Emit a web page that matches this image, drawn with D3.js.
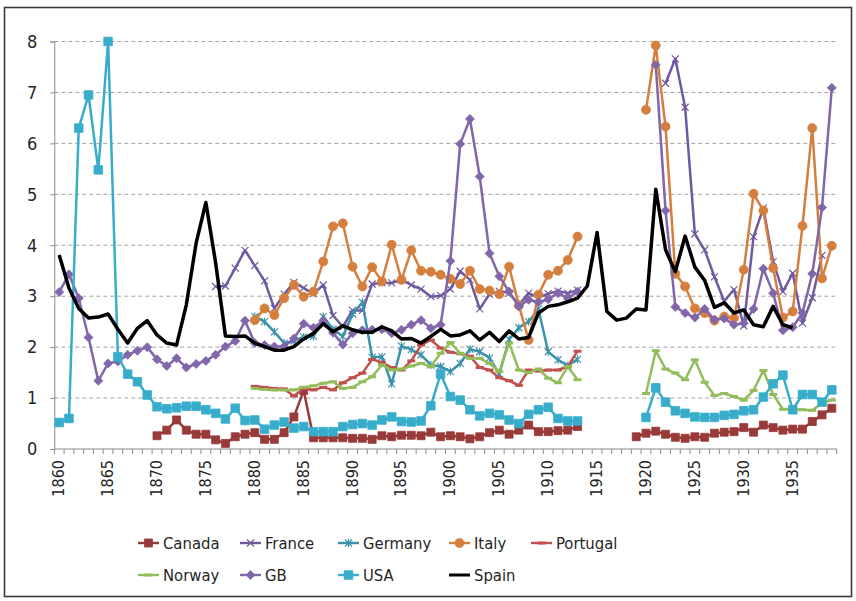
<!DOCTYPE html>
<html lang="en">

<head>
  <meta charset="utf-8">
  <title>Ratios by country, 1860-1939</title>
  <script src="https://d3js.org/d3.v7.min.js" charset="utf-8"></script>
  <style type="text/css">
    body { margin: 0; background: #fff; }
    text { font-family: "Liberation Sans Narrow", "DejaVu Sans Condensed", sans-serif; fill: #262626; }
  </style>
</head>

<body>
  <svg id="chart" width="856" height="601" xmlns="http://www.w3.org/2000/svg"></svg>
  <script type="text/javascript">
    var years = d3.range(1860, 1940);
    var yTicks = [0, 1, 2, 3, 4, 5, 6, 7, 8];
    var xLabels = d3.range(1860, 1940, 5);

    // each series is a list of [first year, values] runs, gaps between runs stay empty
    var canada = [
      [1870, [0.26, 0.37, 0.57, 0.37, 0.29, 0.29, 0.18, 0.11, 0.24, 0.29,
        0.32, 0.19, 0.19, 0.32, 0.63, 1.15, 0.22, 0.22, 0.22, 0.22,
        0.21, 0.21, 0.19, 0.26, 0.24, 0.27, 0.27, 0.26, 0.33, 0.24,
        0.26, 0.24, 0.20, 0.24, 0.32, 0.37, 0.29, 0.37, 0.47, 0.34, 0.34, 0.36, 0.37, 0.44]],
      [1919, [0.24, 0.31, 0.35, 0.29, 0.23, 0.21, 0.24, 0.23, 0.31, 0.33, 0.34,
        0.42, 0.33, 0.47, 0.42, 0.37, 0.39, 0.39, 0.54, 0.67, 0.80]]
    ];
    var france = [
      [1876, [3.19, 3.20, 3.55, 3.90,
        3.60, 3.30, 2.76, 3.04, 3.27, 3.16, 3.05, 3.22, 2.62, 2.40,
        2.72, 2.72, 3.24, 3.26, 3.26, 3.32, 3.22, 3.14, 2.99, 3.01,
        3.14, 3.49, 3.32, 2.75, 3.04, 3.10, 3.06, 2.83, 3.06, 2.97, 3.05, 3.10, 3.06, 3.12]],
      [1922, [7.18, 7.66, 6.71, 4.22, 3.91, 3.38, 2.90, 3.13, 2.42, 4.17, 4.73, 3.68,
        3.09, 3.45, 2.47, 2.97, 3.80]]
    ];
    var germany = [
      [1880, [2.60, 2.50, 2.30, 2.08, 2.12, 2.20, 2.21, 2.60, 2.35, 2.21,
        2.65, 2.88, 1.80, 1.81, 1.28, 2.02, 1.95, 1.85, 1.65, 1.62,
        1.52, 1.68, 1.96, 1.91, 1.79, 1.47, 2.15, 2.38, 2.50, 2.75, 1.91, 1.75, 1.64, 1.76]]
    ];
    var italy = [
      [1880, [2.53, 2.76, 2.63, 2.96, 3.22, 2.99, 3.09, 3.68, 4.37, 4.43,
        3.58, 3.19, 3.57, 3.29, 4.01, 3.32, 3.90, 3.50, 3.48, 3.42,
        3.34, 3.24, 3.50, 3.14, 3.11, 3.04, 3.58, 2.82, 2.14, 3.03, 3.42, 3.50, 3.71, 4.17]],
      [1920, [6.66, 7.92, 6.33, 3.44, 3.19, 2.76, 2.67, 2.52, 2.60, 2.57,
        3.52, 5.01, 4.68, 3.55, 2.58, 2.70, 4.38, 6.30, 3.35, 3.99]]
    ];
    var portugal = [
      [1880, [1.23, 1.21, 1.19, 1.18, 1.04, 1.19, 1.16, 1.21, 1.16, 1.30,
        1.40, 1.49, 1.76, 1.70, 1.60, 1.55, 1.73, 2.04, 2.14, 1.98,
        1.90, 1.87, 1.82, 1.60, 1.55, 1.40, 1.34, 1.25, 1.55, 1.53, 1.55, 1.55, 1.62, 1.92]]
    ];
    var norway = [
      [1880, [1.19, 1.17, 1.16, 1.16, 1.16, 1.21, 1.24, 1.29, 1.32, 1.19,
        1.21, 1.32, 1.42, 1.65, 1.55, 1.57, 1.63, 1.68, 1.62, 1.88,
        2.09, 1.88, 1.78, 1.78, 1.68, 1.52, 2.08, 1.55, 1.50, 1.57, 1.39, 1.30, 1.62, 1.36]],
      [1920, [1.09, 1.93, 1.57, 1.49, 1.36, 1.75, 1.31, 1.05, 1.09, 1.03,
        0.96, 1.15, 1.54, 1.07, 0.78, 0.78, 0.77, 0.76, 0.90, 0.96]]
    ];
    var gb = [
      [1860, [3.08, 3.43, 2.96, 2.19, 1.34, 1.68, 1.72, 1.85, 1.93, 2.00,
        1.76, 1.63, 1.78, 1.60, 1.67, 1.73, 1.85, 2.01, 2.12, 2.52,
        2.08, 2.04, 2.01, 2.01, 2.17, 2.46, 2.38, 2.52, 2.28, 2.05,
        2.27, 2.33, 2.34, 2.35, 2.27, 2.34, 2.44, 2.53, 2.37, 2.44,
        3.69, 5.99, 6.48, 5.35, 3.84, 3.39, 3.09, 2.80, 2.93, 2.88, 2.94, 3.06, 2.96, 3.09]],
      [1921, [7.54, 4.68, 2.79, 2.67, 2.58, 2.75, 2.54, 2.56, 2.44,
        2.47, 2.75, 3.54, 3.06, 2.33, 2.39, 2.67, 3.44, 4.74, 7.09]]
    ];
    var usa = [
      [1860, [0.52, 0.60, 6.30, 6.95, 5.48, 8.00, 1.81, 1.47, 1.32, 1.06,
        0.83, 0.79, 0.81, 0.84, 0.84, 0.77, 0.70, 0.59, 0.80, 0.56,
        0.57, 0.39, 0.47, 0.53, 0.41, 0.44, 0.34, 0.34, 0.34, 0.44,
        0.48, 0.50, 0.47, 0.57, 0.63, 0.54, 0.53, 0.55, 0.85, 1.47,
        1.03, 0.96, 0.77, 0.65, 0.70, 0.67, 0.57, 0.50, 0.68, 0.77, 0.82, 0.60, 0.55, 0.55]],
      [1920, [0.62, 1.20, 0.92, 0.75, 0.70, 0.63, 0.62, 0.62, 0.66, 0.68,
        0.75, 0.77, 1.02, 1.28, 1.45, 0.77, 1.07, 1.07, 0.92, 1.16]]
    ];
    var spain = [
      [1860, [3.81, 3.16, 2.76, 2.57, 2.59, 2.65, 2.35, 2.08, 2.37, 2.52,
        2.24, 2.08, 2.04, 2.83, 4.04, 4.84, 3.65, 2.22, 2.21, 2.22,
        2.08, 2.01, 1.94, 1.94, 2.01, 2.16, 2.27, 2.46, 2.30, 2.42,
        2.34, 2.29, 2.29, 2.40, 2.32, 2.16, 2.17, 2.08, 2.21, 2.35,
        2.22, 2.24, 2.32, 2.14, 2.29, 2.11, 2.32, 2.16, 2.19, 2.67,
        2.80, 2.83, 2.89, 2.96, 3.20, 4.25, 2.70, 2.53, 2.57, 2.75,
        2.73, 5.10, 3.91, 3.48, 4.18, 3.57, 3.31, 2.78, 2.87, 2.67,
        2.73, 2.44, 2.40, 2.80, 2.44, 2.38]]
    ];

    var seriesList = [
      { name: 'Canada', runs: canada, color: '#973a38', marker: 'square', size: 4 },
      { name: 'France', runs: france, color: '#6f5a9f', marker: 'x', size: 3.5 },
      { name: 'Germany', runs: germany, color: '#3b93a9', marker: 'star', size: 3.5 },
      { name: 'Italy', runs: italy, color: '#d57f3e', marker: 'circle', size: 4.5 },
      { name: 'Portugal', runs: portugal, color: '#c0504d', marker: 'dash', size: 4 },
      { name: 'Norway', runs: norway, color: '#93bd5b', marker: 'dash', size: 4 },
      { name: 'GB', runs: gb, color: '#8166aa', marker: 'diamond', size: 4.5 },
      { name: 'USA', runs: usa, color: '#38adcb', marker: 'square', size: 4.3 },
      { name: 'Spain', runs: spain, color: '#000000', marker: 'none', size: 0 }
    ];

    function toPoints(runs) {
      var pts = years.map(function(yr) { return { year: yr, value: null }; });
      runs.forEach(function(run) {
        run[1].forEach(function(v, i) {
          pts[run[0] + i - 1860].value = v;
        });
      });
      return pts;
    }

    function markerPath(type, s) {
      if (type === 'square') return 'M' + (-s) + ',' + (-s) + 'h' + 2 * s + 'v' + 2 * s + 'h' + (-2 * s) + 'Z';
      if (type === 'diamond') return 'M0,' + (-s) + 'L' + s + ',0L0,' + s + 'L' + (-s) + ',0Z';
      if (type === 'x') return 'M' + (-s) + ',' + (-s) + 'L' + s + ',' + s + 'M' + (-s) + ',' + s + 'L' + s + ',' + (-s);
      if (type === 'star') return 'M' + (-s) + ',' + (-s) + 'L' + s + ',' + s + 'M' + (-s) + ',' + s + 'L' + s + ',' + (-s) + 'M0,' + (-s - 0.5) + 'L0,' + (s + 0.5);
      if (type === 'dash') return 'M' + (-s) + ',0L' + s + ',0';
      return '';
    }

    function drawMarker(g, d, px, py) {
      if (d.marker === 'none') return;
      if (d.marker === 'circle') {
        g.append('circle').attr('cx', px).attr('cy', py).attr('r', d.size)
          .style('fill', d.color).style('stroke', d.color).style('stroke-width', 0.8);
        return;
      }
      var filled = d.marker === 'square' || d.marker === 'diamond';
      g.append('path')
        .attr('transform', 'translate(' + px + ',' + py + ')')
        .attr('d', markerPath(d.marker, d.size))
        .style('fill', filled ? d.color : 'none')
        .style('stroke', d.color)
        .style('stroke-width', filled ? 0.8 : (d.marker === 'dash' ? 3 : 1.2));
    }

    function drawChart() {
      var svg = d3.select('#chart');

      // outer frame
      svg.append('rect')
        .attr('x', 4.5).attr('y', 7.5).attr('width', 847).attr('height', 589)
        .style('fill', 'none').style('stroke', '#3a3a3a').style('stroke-width', 1.6);

      var plotLeft = 54.3, plotRight = 836.7, plotTop = 41.5, plotBottom = 449;

      var x = d3.scaleBand().domain(years).range([plotLeft, plotRight]);
      var y = d3.scaleLinear().domain([0, 8]).range([plotBottom, plotTop]);
      var cx = function(yr) { return x(yr) + x.bandwidth() / 2; };

      // dashed grid
      svg.append('g').selectAll('line')
        .data(yTicks.filter(function(t) { return t > 0; }))
        .enter().append('line')
        .attr('x1', plotLeft).attr('x2', plotRight)
        .attr('y1', function(t) { return y(t); })
        .attr('y2', function(t) { return y(t); })
        .style('stroke', '#a3a3a3').style('stroke-width', 1)
        .style('stroke-dasharray', '4,3');

      // y axis
      var yAxis = svg.append('g')
        .attr('transform', 'translate(' + plotLeft + ',0)')
        .call(d3.axisLeft(y).tickValues(yTicks).tickSize(4).tickPadding(13).tickFormat(d3.format('d')));
      yAxis.select('.domain').style('stroke', '#8a8a8a');
      yAxis.selectAll('.tick line').style('stroke', '#8a8a8a');
      yAxis.selectAll('text').style('font-size', '18px').style('fill', '#262626')
        .style('font-family', '"Liberation Sans Narrow", "DejaVu Sans Condensed", sans-serif');

      // x axis: tick marks on band edges, labels every five years
      var xg = svg.append('g');
      xg.append('line').attr('x1', plotLeft).attr('x2', plotRight).attr('y1', plotBottom).attr('y2', plotBottom)
        .style('stroke', '#8a8a8a').style('stroke-width', 1);
      xg.selectAll('line.tk')
        .data(years.concat([1940]))
        .enter().append('line')
        .attr('class', 'tk')
        .attr('x1', function(yr) { return yr < 1940 ? x(yr) : plotRight; })
        .attr('x2', function(yr) { return yr < 1940 ? x(yr) : plotRight; })
        .attr('y1', plotBottom).attr('y2', plotBottom + 5)
        .style('stroke', '#8a8a8a').style('stroke-width', 1);
      xg.selectAll('text')
        .data(xLabels)
        .enter().append('text')
        .attr('transform', function(yr) { return 'translate(' + (cx(yr) + 5) + ',' + (plotBottom + 11) + ') rotate(-90)'; })
        .attr('text-anchor', 'end')
        .style('font-size', '16px')
        .text(function(yr) { return yr; });

      // series
      var line = d3.line()
        .defined(function(p) { return p.value !== null; })
        .x(function(p) { return cx(p.year); })
        .y(function(p) { return y(p.value); });

      seriesList.forEach(function(d) {
        var pts = toPoints(d.runs);
        var g = svg.append('g');
        g.append('path')
          .datum(pts)
          .attr('d', line)
          .style('fill', 'none')
          .style('stroke', d.color)
          .style('stroke-width', d.name === 'Spain' ? 3.5 : 2.5)
          .style('stroke-linejoin', 'round');
        pts.filter(function(p) { return p.value !== null; }).forEach(function(p) {
          drawMarker(g, d, cx(p.year), y(p.value));
        });
      });

      // legend, two rows
      var legendPos = [
        [138, 543], [240, 543], [338, 543], [449, 543], [531, 543],
        [138, 575], [240, 575], [338, 575], [449, 575]
      ];
      var legend = svg.append('g');
      seriesList.forEach(function(d, i) {
        var lx = legendPos[i][0], ly = legendPos[i][1];
        legend.append('line')
          .attr('x1', lx).attr('x2', lx + 21).attr('y1', ly).attr('y2', ly)
          .style('stroke', d.color).style('stroke-width', d.name === 'Spain' ? 3 : 2.4);
        drawMarker(legend, d, lx + 10.5, ly);
        legend.append('text')
          .attr('x', lx + 25).attr('y', ly + 6)
          .style('font-size', '16.5px')
          .text(d.name);
      });
    }

    drawChart();
  </script>
</body>

</html>
